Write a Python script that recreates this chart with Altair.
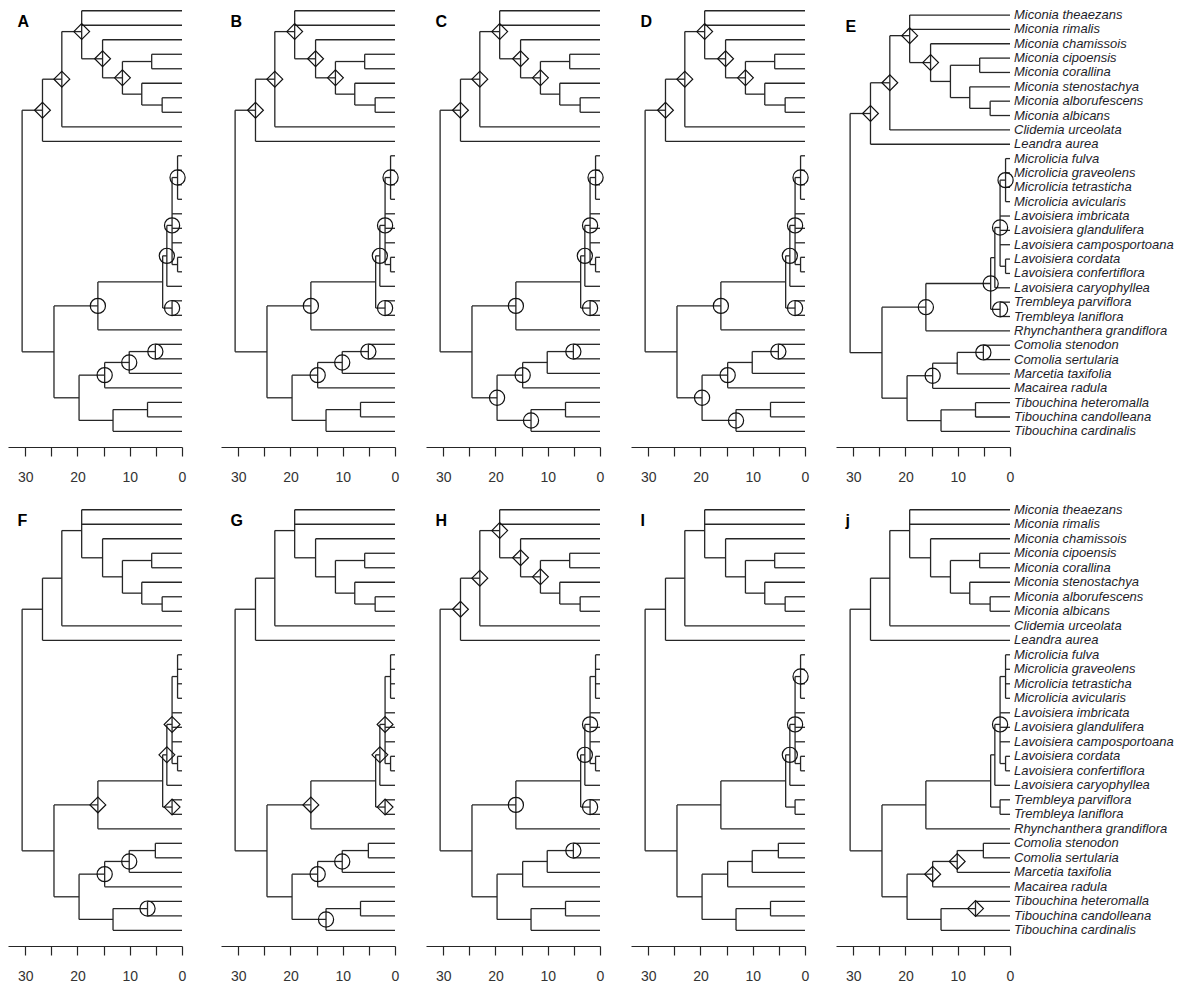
import altair as alt
import pandas as pd

# ---------------- data ----------------
tip_names = [
    "Miconia theaezans", "Miconia rimalis", "Miconia chamissois", "Miconia cipoensis",
    "Miconia corallina", "Miconia stenostachya", "Miconia alborufescens", "Miconia albicans",
    "Clidemia urceolata", "Leandra aurea", "Microlicia fulva", "Microlicia graveolens",
    "Microlicia tetrasticha", "Microlicia avicularis", "Lavoisiera imbricata",
    "Lavoisiera glandulifera", "Lavoisiera camposportoana", "Lavoisiera cordata",
    "Lavoisiera confertiflora", "Lavoisiera caryophyllea", "Trembleya parviflora",
    "Trembleya laniflora", "Rhynchanthera grandiflora", "Comolia stenodon",
    "Comolia sertularia", "Marcetia taxifolia", "Macairea radula",
    "Tibouchina heteromalla", "Tibouchina candolleana", "Tibouchina cardinalis",
]

# internal nodes (children listed before parents), ages in Myr
node_names = ["alb", "sten", "cip", "mic3", "mic2", "mic1", "clid", "lean",
              "micr", "cord", "lav1", "lav2", "trem", "mlt", "rhyn",
              "como", "marc", "maca", "tib2", "tib1", "mel", "low", "root"]
node_ages = [3.8, 7.7, 5.8, 11.4, 15.2, 19.2, 23.0, 26.7,
             0.85, 0.85, 1.9, 2.9, 1.9, 3.7, 16.1,
             5.1, 10.1, 14.8, 6.6, 13.2, 19.7, 24.5, 30.6]
node_children = [
    ["Miconia alborufescens", "Miconia albicans"],
    ["Miconia stenostachya", "alb"],
    ["Miconia cipoensis", "Miconia corallina"],
    ["cip", "sten"],
    ["Miconia chamissois", "mic3"],
    ["Miconia theaezans", "Miconia rimalis", "mic2"],
    ["mic1", "Clidemia urceolata"],
    ["clid", "Leandra aurea"],
    ["Microlicia fulva", "Microlicia graveolens", "Microlicia tetrasticha", "Microlicia avicularis"],
    ["Lavoisiera cordata", "Lavoisiera confertiflora"],
    ["micr", "Lavoisiera imbricata", "Lavoisiera glandulifera", "Lavoisiera camposportoana", "cord"],
    ["lav1", "Lavoisiera caryophyllea"],
    ["Trembleya parviflora", "Trembleya laniflora"],
    ["lav2", "trem"],
    ["mlt", "Rhynchanthera grandiflora"],
    ["Comolia stenodon", "Comolia sertularia"],
    ["como", "Marcetia taxifolia"],
    ["marc", "Macairea radula"],
    ["Tibouchina heteromalla", "Tibouchina candolleana"],
    ["tib2", "Tibouchina cardinalis"],
    ["maca", "tib1"],
    ["rhyn", "mel"],
    ["lean", "low"],
]

panel_letters = ["A", "B", "C", "D", "E", "F", "G", "H", "I", "j"]
panel_diamonds = [
    ["lean", "clid", "mic1", "mic2", "mic3"],
    ["lean", "clid", "mic1", "mic2", "mic3"],
    ["lean", "clid", "mic1", "mic2", "mic3"],
    ["lean", "clid", "mic1", "mic2", "mic3"],
    ["lean", "clid", "mic1", "mic2"],
    ["lav1", "lav2", "rhyn", "trem"],
    ["lav1", "lav2", "rhyn", "trem"],
    ["lean", "clid", "mic1", "mic2", "mic3"],
    [],
    ["marc", "maca", "tib2"],
]
panel_circles = [
    ["micr", "lav1", "lav2", "trem", "rhyn", "como", "marc", "maca"],
    ["micr", "lav1", "lav2", "trem", "rhyn", "como", "marc", "maca"],
    ["micr", "lav1", "lav2", "trem", "rhyn", "como", "maca", "mel", "tib1"],
    ["micr", "lav1", "lav2", "trem", "rhyn", "como", "maca", "mel", "tib1"],
    ["micr", "lav1", "mlt", "trem", "rhyn", "como", "maca"],
    ["marc", "maca", "tib2"],
    ["marc", "maca", "tib1"],
    ["lav1", "lav2", "trem", "rhyn", "como"],
    ["micr", "lav1", "lav2"],
    ["lav1"],
]
labelled_panels = ["E", "j"]
axis_ticks = [0, 5, 10, 15, 20, 25, 30]

# ---------------- tree layout (ape-style phylogram) ----------------
pos = {}
for i, t in enumerate(tip_names):
    pos[t] = (0.0, float(i + 1))
for name, age, kids in zip(node_names, node_ages, node_children):
    ys = [pos[k][1] for k in kids]
    pos[name] = (age, sum(ys) / len(ys))

seg_rows = []
for name, age, kids in zip(node_names, node_ages, node_children):
    ys = [pos[k][1] for k in kids]
    seg_rows.append({"x": age, "x2": age, "y": min(ys), "y2": max(ys)})
    for k in kids:
        seg_rows.append({"x": age, "x2": pos[k][0], "y": pos[k][1], "y2": pos[k][1]})
seg_df = pd.DataFrame(seg_rows)

node_df = pd.DataFrame({"name": node_names,
                        "x": [pos[n][0] for n in node_names],
                        "y": [pos[n][1] for n in node_names]})
tip_df = pd.DataFrame({"label": tip_names, "x": 0.0,
                       "y": [float(i + 1) for i in range(len(tip_names))]})

FONT = "Liberation Sans"
LINE = "#262626"


def panel(idx):
    letter = panel_letters[idx]
    ydom = [0.51, 31.09] if letter == "E" else [0.81, 31.08]
    xs = alt.Scale(domain=[33.3, 0], nice=False, zero=False)
    ys = alt.Scale(domain=ydom, reverse=True, nice=False, zero=False)
    xax = alt.Axis(values=axis_ticks, title=None, grid=False,
                   labelExpr="datum.value % 10 === 0 ? datum.label : ''",
                   tickSize=9, tickColor=LINE, domainColor=LINE, tickWidth=1.2,
                   domainWidth=1.2, labelPadding=14, labelFontSize=14,
                   labelColor="#333333", labelFont=FONT, labelFlush=False,
                   labelOverlap=False)

    def X(f):
        return alt.X(f"{f}:Q", scale=xs, axis=xax)

    def Y(f):
        return alt.Y(f"{f}:Q", scale=ys, axis=None)

    layers = [
        alt.Chart(seg_df).mark_rule(color=LINE, strokeWidth=1.3).encode(
            x=X("x"), x2="x2:Q", y=Y("y"), y2="y2:Q")
    ]
    dia = node_df[node_df["name"].isin(panel_diamonds[idx])]
    if len(dia):
        layers.append(alt.Chart(dia).mark_point(
            shape="diamond", filled=False, size=250, color="#111111",
            strokeWidth=1.2, opacity=1).encode(x=X("x"), y=Y("y")))
    cir = node_df[node_df["name"].isin(panel_circles[idx])]
    if len(cir):
        layers.append(alt.Chart(cir).mark_point(
            shape="circle", filled=False, size=230, color="#111111",
            strokeWidth=1.2, opacity=1).encode(x=X("x"), y=Y("y")))
    let_df = pd.DataFrame({"t": [letter], "x": [31.5], "y": [1.8]})
    layers.append(alt.Chart(let_df).mark_text(
        align="left", baseline="middle", fontSize=16, fontWeight="bold",
        font=FONT, color="#000000").encode(x=X("x"), y=Y("y"), text="t:N"))
    if letter in labelled_panels:
        layers.append(alt.Chart(tip_df).mark_text(
            align="left", baseline="middle", dx=4, fontSize=13, fontStyle="italic",
            font=FONT, color="#1e1e2a").encode(x=X("x"), y=Y("y"), text="label:N"))
    return alt.layer(*layers).properties(width=174, height=439)


charts = [panel(i) for i in range(10)]
top = alt.hconcat(charts[0],
                  alt.hconcat(*charts[1:5], spacing=31, bounds="flush"),
                  spacing=39, bounds="flush")
bottom = alt.hconcat(charts[5],
                     alt.hconcat(*charts[6:10], spacing=31, bounds="flush"),
                     spacing=39, bounds="flush")
chart = alt.vconcat(top, bottom, spacing=19).properties(
    padding=0).configure_view(stroke=None)

chart.save("out.html", embed_options={"renderer": "svg", "actions": False})
